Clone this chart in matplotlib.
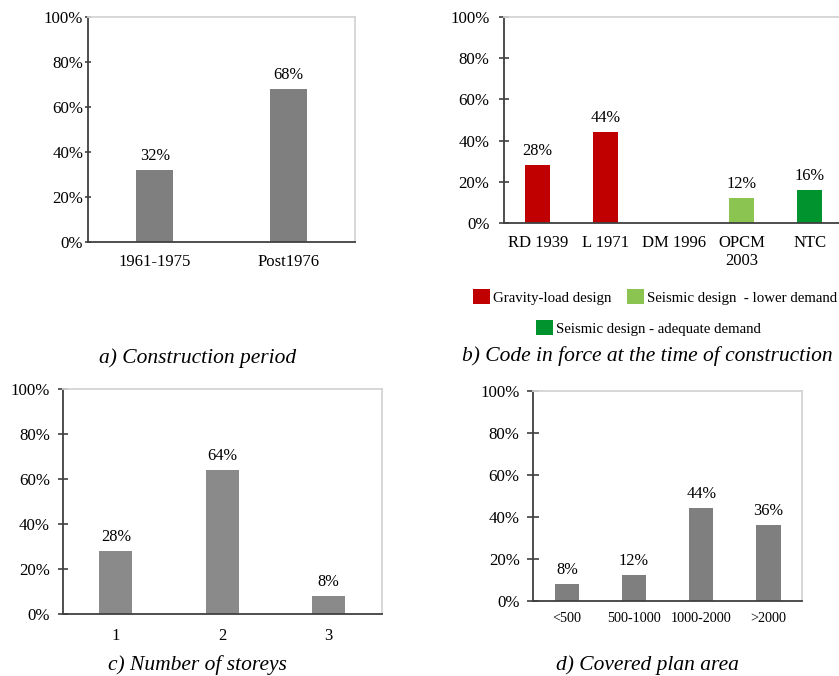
import numpy as np
import matplotlib
matplotlib.use("Agg")
import matplotlib.pyplot as plt
from matplotlib.patches import Patch

plt.rcParams['font.family'] = ['Liberation Serif', 'DejaVu Serif']

# a) construction period
period_labels = ["1961-1975", "Post1976"]
period_values = [32, 68]

# b) code in force
code_labels = ["RD 1939", "L 1971", "DM 1996", "OPCM\n2003", "NTC"]
code_values = [28, 44, 0, 12, 16]
code_groups = ["gravity", "gravity", "gravity", "lower", "adequate"]

# c) number of storeys
storey_labels = ["1", "2", "3"]
storey_values = [28, 64, 8]

# d) covered plan area
area_labels = ["<500", "500-1000", "1000-2000", ">2000"]
area_values = [8, 12, 44, 36]

group_colors = {"gravity": "#c00000", "lower": "#8cc452", "adequate": "#00932e"}
legend_names = {"gravity": "Gravity-load design",
                "lower": "Seismic design  - lower demand",
                "adequate": "Seismic design - adequate demand"}

fig = plt.figure(figsize=(8.39, 6.76), dpi=100)


def bar_panel(rect, labels, values, colors, width, tick_len, tick_pad,
              xfs=12, xpad=8.5, show_zero=True):
    ax = fig.add_axes(rect)
    x = np.arange(len(labels))
    bars = ax.bar(x, values, width=width, color=colors, zorder=2)
    for b, v in zip(bars, values):
        if v == 0 and not show_zero:
            continue
        ax.annotate(f"{v}%", (b.get_x() + b.get_width() / 2, v),
                    xytext=(0, 4.5), textcoords="offset points",
                    ha="center", va="bottom", fontsize=11.8)
    ax.set_xlim(-0.5, len(labels) - 0.5)
    ax.set_ylim(0, 100)
    ax.set_yticks(range(0, 101, 20))
    ax.set_yticklabels([f"{t}%" for t in range(0, 101, 20)])
    ax.set_xticks(x)
    ax.set_xticklabels(labels)
    ax.tick_params(axis="y", direction="inout", length=tick_len, width=1.2,
                   color="#404040", pad=tick_pad, labelsize=12.2)
    ax.tick_params(axis="x", length=0, pad=xpad, labelsize=xfs)
    for s in ["left", "bottom"]:
        ax.spines[s].set_color("#404040")
        ax.spines[s].set_linewidth(1.3)
    for s in ["top", "right"]:
        ax.spines[s].set_color("#d4d4d4")
        ax.spines[s].set_linewidth(1.3)
    return ax


bar_panel([0.1049, 0.6420, 0.3182, 0.3329], period_labels, period_values,
          "#7f7f7f", 0.28, 5, 1)

axb = bar_panel([0.6003, 0.6701, 0.4053, 0.3047], code_labels, code_values,
                [group_colors[g] for g in code_groups], 0.37, 7.2, 6.6,
                show_zero=False)

bar_panel([0.0747, 0.0917, 0.3802, 0.3324], storey_labels, storey_values,
          "#8a8a8a", 0.31, 7.2, 5.5, xpad=10)

bar_panel([0.6356, 0.1114, 0.3203, 0.3106], area_labels, area_values,
          "#7f7f7f", 0.36, 8, 5.8, xfs=10.2, xpad=7.8)

# legend for panel b: two entries on the first row, one centred below
handles = {g: Patch(facecolor=c, edgecolor="none") for g, c in group_colors.items()}
leg_kw = dict(frameon=False, fontsize=10.7, handlelength=1.15, handleheight=1.2,
              handletextpad=0.25, columnspacing=1.0, borderpad=0, borderaxespad=0)
fig.legend([handles["gravity"], handles["lower"]],
           [legend_names["gravity"], legend_names["lower"]],
           ncol=2, loc="center", bbox_to_anchor=(655 / 839, 1 - 297 / 676), **leg_kw)
fig.legend([handles["adequate"]], [legend_names["adequate"]],
           loc="center", bbox_to_anchor=(648.5 / 839, 1 - 328 / 676), **leg_kw)

# panel captions
cap_kw = dict(ha="center", va="center", fontsize=15.5, style="italic")
fig.text(197.5 / 839, 1 - 358 / 676, "a) Construction period", **cap_kw)
fig.text(647.5 / 839, 1 - 356 / 676, "b) Code in force at the time of construction", **cap_kw)
fig.text(197.5 / 839, 1 - 665 / 676, "c) Number of storeys", **cap_kw)
fig.text(647.5 / 839, 1 - 665 / 676, "d) Covered plan area", **cap_kw)

fig.savefig("out.png", dpi=100, facecolor="white")
